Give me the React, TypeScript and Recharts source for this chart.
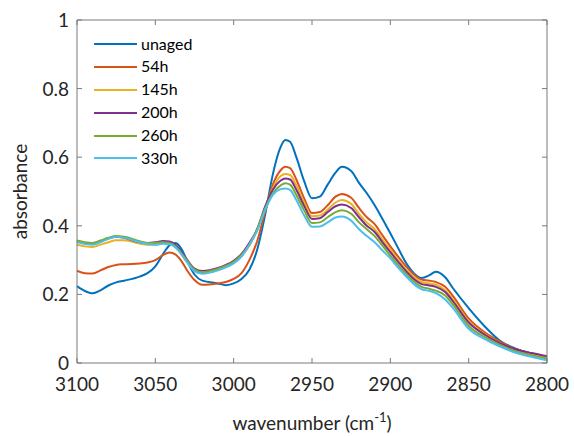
import React from "react";
import { LineChart, Line, XAxis, YAxis, Legend } from "recharts";

// wavenumber grid (cm^-1)
const wavenumbers = [
  3100, 3095, 3090, 3085, 3080, 3075, 3070, 3060, 3055, 3050, 3045, 3041, 3037, 3033, 3030,
  3025, 3020, 3010, 3005, 3000, 2995, 2990, 2985, 2980, 2975, 2970, 2967, 2964, 2960, 2955,
  2950, 2945, 2940, 2935, 2931, 2925, 2920, 2915, 2910, 2905, 2900, 2895, 2890, 2885, 2880,
  2875, 2871, 2865, 2860, 2850, 2840, 2830, 2820, 2810, 2800,
];

const unaged = [
  0.224, 0.21, 0.203, 0.212, 0.226, 0.235, 0.24, 0.252, 0.262, 0.282, 0.318, 0.343, 0.35, 0.33, 0.3,
  0.258, 0.24, 0.232, 0.227, 0.232, 0.245, 0.272, 0.33, 0.43, 0.55, 0.63, 0.65, 0.645, 0.6, 0.53,
  0.48, 0.485, 0.52, 0.555, 0.572, 0.56, 0.525, 0.495, 0.46, 0.42, 0.378, 0.335, 0.292, 0.262, 0.248,
  0.256, 0.266, 0.25, 0.218, 0.16, 0.108, 0.065, 0.042, 0.028, 0.016,
];

const h54 = [
  0.269, 0.262, 0.261, 0.27, 0.28, 0.286, 0.288, 0.29, 0.293, 0.3, 0.315, 0.322, 0.316, 0.295, 0.272,
  0.242, 0.228, 0.232, 0.236, 0.245, 0.262, 0.3, 0.355, 0.44, 0.52, 0.562, 0.572, 0.568, 0.535, 0.48,
  0.437, 0.44, 0.46, 0.485, 0.493, 0.482, 0.452, 0.425, 0.405, 0.372, 0.34, 0.31, 0.282, 0.258, 0.243,
  0.24, 0.236, 0.222, 0.195, 0.13, 0.09, 0.062, 0.04, 0.028, 0.018,
];

const h145 = [
  0.345, 0.34, 0.338, 0.345, 0.352, 0.358, 0.358, 0.348, 0.345, 0.345, 0.35, 0.349, 0.34, 0.318, 0.298,
  0.27, 0.262, 0.272, 0.282, 0.293, 0.312, 0.342, 0.39, 0.45, 0.51, 0.545, 0.551, 0.548, 0.518, 0.468,
  0.428, 0.43, 0.447, 0.468, 0.475, 0.464, 0.435, 0.41, 0.39, 0.36, 0.33, 0.3, 0.273, 0.25, 0.236,
  0.232, 0.228, 0.212, 0.185, 0.122, 0.085, 0.058, 0.037, 0.025, 0.016,
];

const h200 = [
  0.355, 0.35, 0.348, 0.355, 0.363, 0.368, 0.365, 0.352, 0.35, 0.352, 0.356, 0.354, 0.344, 0.322, 0.303,
  0.275, 0.268, 0.277, 0.286, 0.298, 0.318, 0.35, 0.39, 0.455, 0.505, 0.532, 0.538, 0.535, 0.505, 0.458,
  0.42, 0.422, 0.44, 0.457, 0.462, 0.452, 0.425, 0.4, 0.382, 0.352, 0.323, 0.295, 0.268, 0.245, 0.23,
  0.226, 0.222, 0.207, 0.18, 0.118, 0.083, 0.058, 0.04, 0.029, 0.02,
];

const h260 = [
  0.357, 0.352, 0.35, 0.357, 0.365, 0.37, 0.368, 0.355, 0.35, 0.35, 0.352, 0.35, 0.34, 0.318, 0.3,
  0.272, 0.265, 0.275, 0.284, 0.295, 0.315, 0.345, 0.39, 0.45, 0.495, 0.518, 0.524, 0.52, 0.49, 0.445,
  0.408, 0.41, 0.425, 0.44, 0.445, 0.435, 0.41, 0.39, 0.37, 0.342, 0.313, 0.285, 0.26, 0.237, 0.222,
  0.216, 0.211, 0.197, 0.17, 0.108, 0.076, 0.053, 0.034, 0.023, 0.013,
];

const h330 = [
  0.352, 0.347, 0.345, 0.352, 0.362, 0.368, 0.365, 0.352, 0.347, 0.345, 0.348, 0.346, 0.336, 0.314, 0.295,
  0.268, 0.26, 0.27, 0.279, 0.29, 0.31, 0.345, 0.385, 0.445, 0.49, 0.507, 0.509, 0.505, 0.475, 0.43,
  0.397, 0.398, 0.41, 0.424, 0.427, 0.415, 0.39, 0.37, 0.352, 0.328, 0.305, 0.278, 0.253, 0.23, 0.215,
  0.21, 0.204, 0.185, 0.16, 0.1, 0.07, 0.048, 0.03, 0.018, 0.008,
];

const xTicks = [3100, 3050, 3000, 2950, 2900, 2850, 2800];
const yTicks = [0, 0.2, 0.4, 0.6, 0.8, 1];

const series = [
  { key: "unaged", name: "unaged", values: unaged, color: "#0072BD" },
  { key: "h54", name: "54h", values: h54, color: "#D95319" },
  { key: "h145", name: "145h", values: h145, color: "#EDB120" },
  { key: "h200", name: "200h", values: h200, color: "#7E2F8E" },
  { key: "h260", name: "260h", values: h260, color: "#77AC30" },
  { key: "h330", name: "330h", values: h330, color: "#4DBEEE" },
];

const data = wavenumbers.map((wn, i) => {
  const row: Record<string, number> = { wn };
  series.forEach((s) => (row[s.key] = s.values[i]));
  return row;
});

const FONT = "Lato, 'Open Sans', sans-serif";
const TEXT = "#262626";
const AXIS = "#7a7a7a";

// ticks point inward, like the original figure
const BottomTick = ({ x, y, payload }: any) => (
  <g>
    <line x1={x} x2={x} y1={y} y2={y - 5} stroke={AXIS} />
    <text x={x} y={y + 28} textAnchor="middle" fontSize={19} fill={TEXT} fontFamily={FONT}>
      {payload.value}
    </text>
  </g>
);

const TopTick = ({ x, y }: any) => <line x1={x} x2={x} y1={y} y2={y + 5} stroke={AXIS} />;

const LeftTick = ({ x, y, payload }: any) => (
  <g>
    <line x1={x} x2={x + 5} y1={y} y2={y} stroke={AXIS} />
    <text x={x - 8} y={y + 7} textAnchor="end" fontSize={19} fill={TEXT} fontFamily={FONT}>
      {payload.value}
    </text>
  </g>
);

const RightTick = ({ x, y }: any) => <line x1={x} x2={x - 5} y1={y} y2={y} stroke={AXIS} />;

const LegendBox = () => (
  <div style={{ fontFamily: FONT, fontSize: 16, color: "#000", lineHeight: "22.9px" }}>
    {series.map((s) => (
      <div key={s.key} style={{ display: "flex", alignItems: "center", height: 22.9 }}>
        <div style={{ width: 43, height: 2, background: s.color, marginRight: 4 }} />
        <span>{s.name}</span>
      </div>
    ))}
  </div>
);

export default function App() {
  return (
    <div style={{ position: "fixed", left: 0, top: 0, width: 574, height: 436, background: "#fff" }}>
      <LineChart width={574} height={436} data={data} margin={{ top: 19, right: 26, bottom: 0, left: 0 }}>
        <XAxis
          dataKey="wn"
          type="number"
          domain={[2800, 3100]}
          reversed
          ticks={xTicks}
          height={73}
          tickSize={0}
          tickMargin={0}
          stroke={AXIS}
          tick={<BottomTick />}
          label={{
            content: ({ viewBox }: any) => (
              <text
                x={viewBox.x + viewBox.width / 2}
                y={viewBox.y + 67}
                textAnchor="middle"
                fontSize={19}
                fill={TEXT}
                fontFamily={FONT}
              >
                wavenumber (cm
                <tspan dy={-8} fontSize={13}>-1</tspan>
                <tspan dy={8}>)</tspan>
              </text>
            ),
          }}
        />
        <XAxis
          xAxisId="top"
          orientation="top"
          dataKey="wn"
          type="number"
          domain={[2800, 3100]}
          reversed
          ticks={xTicks}
          height={1}
          tickSize={0}
          tickMargin={0}
          stroke={AXIS}
          tick={<TopTick />}
        />
        <YAxis
          type="number"
          domain={[0, 1]}
          ticks={yTicks}
          width={77}
          tickSize={0}
          tickMargin={0}
          stroke={AXIS}
          tick={<LeftTick />}
          label={{
            content: ({ viewBox }: any) => (
              <text
                x={27}
                y={viewBox.y + viewBox.height / 2}
                transform={`rotate(-90 27 ${viewBox.y + viewBox.height / 2})`}
                textAnchor="middle"
                fontSize={19}
                fill={TEXT}
                fontFamily={FONT}
              >
                absorbance
              </text>
            ),
          }}
        />
        <YAxis
          yAxisId="right"
          orientation="right"
          type="number"
          domain={[0, 1]}
          ticks={yTicks}
          width={1}
          tickSize={0}
          tickMargin={0}
          stroke={AXIS}
          tick={<RightTick />}
        />
        <Legend
          layout="vertical"
          verticalAlign="middle"
          align="center"
          content={<LegendBox />}
          wrapperStyle={{ position: "absolute", left: 94, top: 32.5, width: "auto", height: "auto" }}
        />
        {/* invisible copy so the box axes (top/right) have a series bound to them */}
        <Line
          xAxisId="top"
          yAxisId="right"
          dataKey="unaged"
          stroke="none"
          dot={false}
          legendType="none"
          isAnimationActive={false}
        />
        {series.map((s) => (
          <Line
            key={s.key}
            dataKey={s.key}
            name={s.name}
            type="monotone"
            stroke={s.color}
            strokeWidth={2}
            dot={false}
            isAnimationActive={false}
          />
        ))}
      </LineChart>
    </div>
  );
}
